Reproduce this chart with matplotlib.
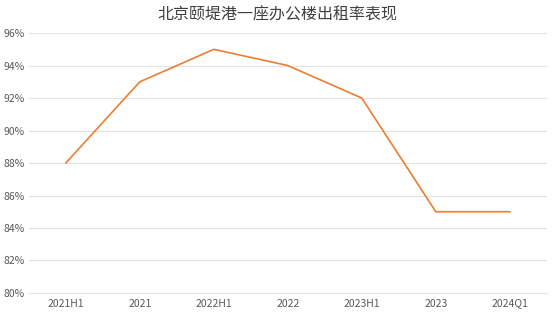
import matplotlib
matplotlib.use("Agg")
import matplotlib.pyplot as plt
from matplotlib.ticker import FuncFormatter

plt.rcParams['font.family'] = ['Noto Sans CJK SC', 'DejaVu Sans']

categories = ["2021H1", "2021", "2022H1", "2022", "2023H1", "2023", "2024Q1"]
occupancy = [88, 93, 95, 94, 92, 85, 85]
yticks = [80, 82, 84, 86, 88, 90, 92, 94, 96]
title = "北京颐堤港一座办公楼出租率表现"

fig = plt.figure(figsize=(5.54, 3.12), dpi=100)
ax = fig.add_axes([0.052, 0.061, 0.935, 0.833])

x = list(range(len(categories)))
ax.plot(x, occupancy, color="#ED7D31", linewidth=1.2)

ax.set_xlim(-0.5, len(categories) - 0.5)
ax.set_ylim(80, 96)
ax.set_yticks(yticks)
ax.yaxis.set_major_formatter(FuncFormatter(lambda v, p: f"{v:.0f}%"))
ax.set_xticks(x)
ax.set_xticklabels(categories)
ax.grid(axis="y", color="#e3e3e3", linewidth=0.8)
ax.set_axisbelow(True)
for s in ax.spines.values():
    s.set_visible(False)
ax.spines["bottom"].set_visible(True)
ax.spines["bottom"].set_color("#e3e3e3")
ax.tick_params(axis="both", length=0, labelsize=7.5, colors="#595959")
ax.tick_params(axis="y", pad=3)
ax.tick_params(axis="x", pad=4)

fig.text(0.5, 0.952, title, ha="center", va="center", fontsize=11.5,
         fontweight="medium", color="#404040")

fig.savefig("out.png", dpi=100, facecolor="white")
